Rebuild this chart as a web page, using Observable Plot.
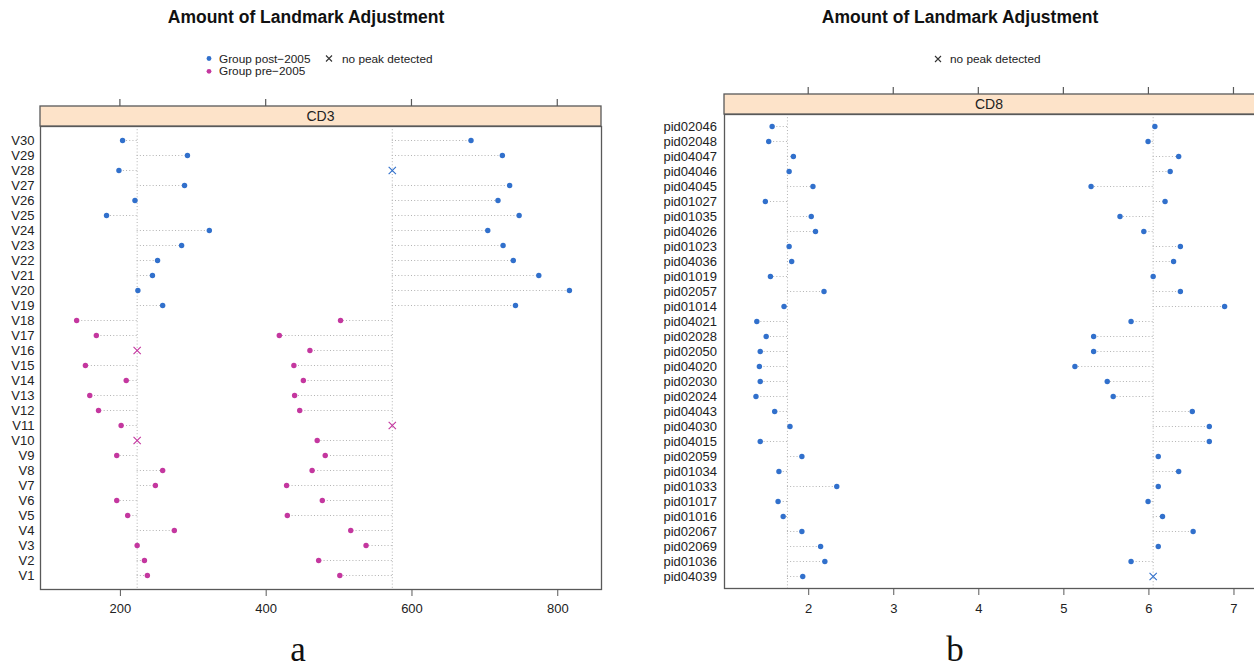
<!DOCTYPE html>
<html><head><meta charset="utf-8">
<script src="https://cdn.jsdelivr.net/npm/d3@7"></script>
<script src="https://cdn.jsdelivr.net/npm/@observablehq/plot@0.6"></script>
<style>
html,body{margin:0;padding:0;background:#fff;overflow:hidden;}
#page{position:relative;width:1254px;height:670px;overflow:hidden;font-family:"Liberation Sans",Arial,sans-serif;background:#fff;}
#page > .abs{position:absolute;}
</style></head><body><div id="page"></div>
<script>
// ---------- Panel a data (CD3) ----------
const cd3Vars = ["V1","V2","V3","V4","V5","V6","V7","V8","V9","V10","V11","V12","V13","V14","V15","V16","V17","V18","V19","V20","V21","V22","V23","V24","V25","V26","V27","V28","V29","V30"];
const cd3Group = ["pre","pre","pre","pre","pre","pre","pre","pre","pre","pre","pre","pre","pre","pre","pre","pre","pre","pre",
                  "post","post","post","post","post","post","post","post","post","post","post","post"];
const cd3Peak1 = [237,233,223,274,210,195,248,258,195,null,201,170,158,208,152,null,167,140,258,224,244,251,284,322,181,220,288,198,292,203];
const cd3Peak2 = [501,472,537,516,429,477,428,463,481,470,null,446,439,451,438,460,418,502,742,816,774,739,725,704,747,718,734,null,724,681];
const cd3Ref = [223, 573];
const cd3Ticks = [200, 400, 600, 800];

// ---------- Panel b data (CD8) ----------
const cd8Ids = ["pid02046","pid02048","pid04047","pid04046","pid04045","pid01027","pid01035","pid04026","pid01023","pid04036","pid01019","pid02057","pid01014","pid04021","pid02028","pid02050","pid04020","pid02030","pid02024","pid04043","pid04030","pid04015","pid02059","pid01034","pid01033","pid01017","pid01016","pid02067","pid02069","pid01036","pid04039"];
const cd8Peak1 = [1.57,1.53,1.82,1.77,2.05,1.49,2.03,2.08,1.77,1.80,1.55,2.18,1.71,1.39,1.50,1.43,1.42,1.43,1.38,1.60,1.78,1.43,1.92,1.65,2.33,1.64,1.70,1.92,2.14,2.19,1.93];
const cd8Peak2 = [6.07,5.99,6.35,6.25,5.32,6.19,5.66,5.94,6.37,6.29,6.05,6.37,6.89,5.79,5.35,5.35,5.13,5.51,5.58,6.51,6.71,6.71,6.11,6.35,6.11,5.99,6.16,6.52,6.11,5.79,null];
const cd8Ref = [1.75, 6.05];
const cd8Ticks = [2, 3, 4, 5, 6, 7];

const groupNames = ["post", "pre"];
const groupColors = ["#3170cc", "#c4379f"];

const DOT = "#b3b3b3";
const FRAME = "#595959";

function rowsFrom(ids, groups, p1, p2, refs) {
  const rows = [];
  ids.forEach((id, i) => {
    [p1, p2].forEach((p, k) => rows.push({id, group: groups[i], ref: refs[k], value: p[i]}));
  });
  return rows;
}

function stripMark(label, ticks, stripH) {
  return (index, scales, values, dims) => {
    const g = d3.create("svg:g");
    const x0 = dims.marginLeft, x1 = dims.width - dims.marginRight;
    const yb = dims.marginTop, yt = yb - stripH;
    g.append("rect").attr("x", x0).attr("y", yt).attr("width", x1 - x0).attr("height", stripH)
      .attr("fill", "#fde3c9").attr("stroke", FRAME).attr("stroke-width", 1.3);
    g.append("text").attr("x", (x0 + Math.min(x1, 624)) / 2).attr("y", yt + stripH / 2).attr("dy", "0.36em")
      .attr("text-anchor", "middle").attr("font-size", 14).attr("fill", "#222").text(label);
    for (const t of ticks) {
      const x = scales.x(t);
      g.append("line").attr("x1", x).attr("x2", x).attr("y1", yt - 7).attr("y2", yt)
        .attr("stroke", FRAME).attr("stroke-width", 1.2);
    }
    return g.node();
  };
}

function panel({ids, rows, refs, xDomain, ticks, width, height, mt, mb, ml, mr, label, yPad, xPad}) {
  const withV = rows.filter(d => d.value != null);
  const noPeak = rows.filter(d => d.value == null);
  return Plot.plot({
    width, height,
    marginTop: mt, marginBottom: mb, marginLeft: ml, marginRight: mr,
    style: {fontFamily: "Liberation Sans, Arial, sans-serif", fontSize: "13px", color: "#222", background: "transparent", overflow: "visible"},
    x: {domain: xDomain, label: null},
    y: {type: "point", domain: [...ids], padding: 0.5, label: null},
    color: {domain: groupNames, range: groupColors},
    marks: [
      Plot.ruleX(refs, {stroke: DOT, strokeWidth: 1, strokeDasharray: "1,2.2"}),
      Plot.ruleY(withV, {y: "id", x1: "ref", x2: "value", stroke: DOT, strokeWidth: 1, strokeDasharray: "1,2.2"}),
      Plot.dot(withV, {x: "value", y: "id", fill: "group", r: 2.7}),
      Plot.dot(noPeak, {x: "ref", y: "id", symbol: "times", stroke: "group", r: 3.4, strokeWidth: 1.1}),
      Plot.frame({stroke: FRAME, strokeWidth: 1.3}),
      Plot.axisX({anchor: "bottom", ticks, tickSize: 7, tickPadding: xPad, fontSize: 13, label: null, stroke: FRAME, tickFormat: d => String(d)}),
      Plot.axisY({anchor: "left", tickSize: 0, tickPadding: yPad, fontSize: 13, label: null}),
      stripMark(label, ticks, 20)
    ]
  });
}

const page = document.getElementById("page");

// overlay text (titles, legends, captions)
const ov = d3.select(page).append("svg").attr("class", "abs")
  .style("left", "0px").style("top", "0px").attr("width", 1254).attr("height", 670)
  .style("font-family", "Liberation Sans, Arial, sans-serif");
const title = "Amount of Landmark Adjustment";
ov.append("text").attr("x", 306).attr("y", 22.5).attr("text-anchor", "middle").attr("font-weight", "bold").attr("font-size", 17.5).attr("fill", "#111").text(title);
ov.append("text").attr("x", 960).attr("y", 22.5).attr("text-anchor", "middle").attr("font-weight", "bold").attr("font-size", 17.5).attr("fill", "#111").text(title);

function cross(g, x, y, s, color) {
  g.append("path").attr("d", `M${x-s},${y-s}L${x+s},${y+s}M${x-s},${y+s}L${x+s},${y-s}`).attr("stroke", color).attr("stroke-width", 1.1).attr("fill", "none");
}
// legend a
const LF = 11.8;
ov.append("circle").attr("cx", 209).attr("cy", 58.5).attr("r", 2.4).attr("fill", groupColors[0]);
ov.append("text").attr("x", 219).attr("y", 62.6).attr("font-size", LF).attr("fill", "#222").text("Group post\u22122005");
cross(ov, 329, 58.5, 3, "#333");
ov.append("text").attr("x", 342).attr("y", 62.6).attr("font-size", LF).attr("fill", "#222").text("no peak detected");
ov.append("circle").attr("cx", 209).attr("cy", 71.3).attr("r", 2.4).attr("fill", groupColors[1]);
ov.append("text").attr("x", 219).attr("y", 75.4).attr("font-size", LF).attr("fill", "#222").text("Group pre\u22122005");
// legend b
cross(ov, 938, 59, 3, "#333");
ov.append("text").attr("x", 950).attr("y", 63.1).attr("font-size", LF).attr("fill", "#222").text("no peak detected");
// captions
ov.append("text").attr("x", 298).attr("y", 661).attr("text-anchor", "middle").attr("font-family", "Liberation Serif, serif").attr("font-size", 35).attr("fill", "#111").text("a");
ov.append("text").attr("x", 955).attr("y", 661).attr("text-anchor", "middle").attr("font-family", "Liberation Serif, serif").attr("font-size", 35).attr("fill", "#111").text("b");

// panel a
const rowsA = rowsFrom(cd3Vars, cd3Group, cd3Peak1, cd3Peak2, cd3Ref);
const plotA = panel({ids: [...cd3Vars].reverse(), rows: rowsA, refs: cd3Ref, xDomain: [90.4, 860], ticks: cd3Ticks,
  width: 620, height: 540, mt: 46, mb: 31, ml: 40, mr: 19, label: "CD3", yPad: 6, xPad: 7});
plotA.classList.add("abs"); plotA.style.left = "0px"; plotA.style.top = "80px";
page.appendChild(plotA);

// panel b
const rowsB = rowsFrom(cd8Ids, cd8Ids.map(() => "post"), cd8Peak1, cd8Peak2, cd8Ref);
const plotB = panel({ids: cd8Ids, rows: rowsB, refs: cd8Ref, xDomain: [1.01, 7.5], ticks: cd8Ticks,
  width: 650, height: 540, mt: 34, mb: 32, ml: 94, mr: 4, label: "CD8", yPad: 7.5, xPad: 8});
plotB.classList.add("abs"); plotB.style.left = "630px"; plotB.style.top = "80px";
page.appendChild(plotB);
</script></body></html>
